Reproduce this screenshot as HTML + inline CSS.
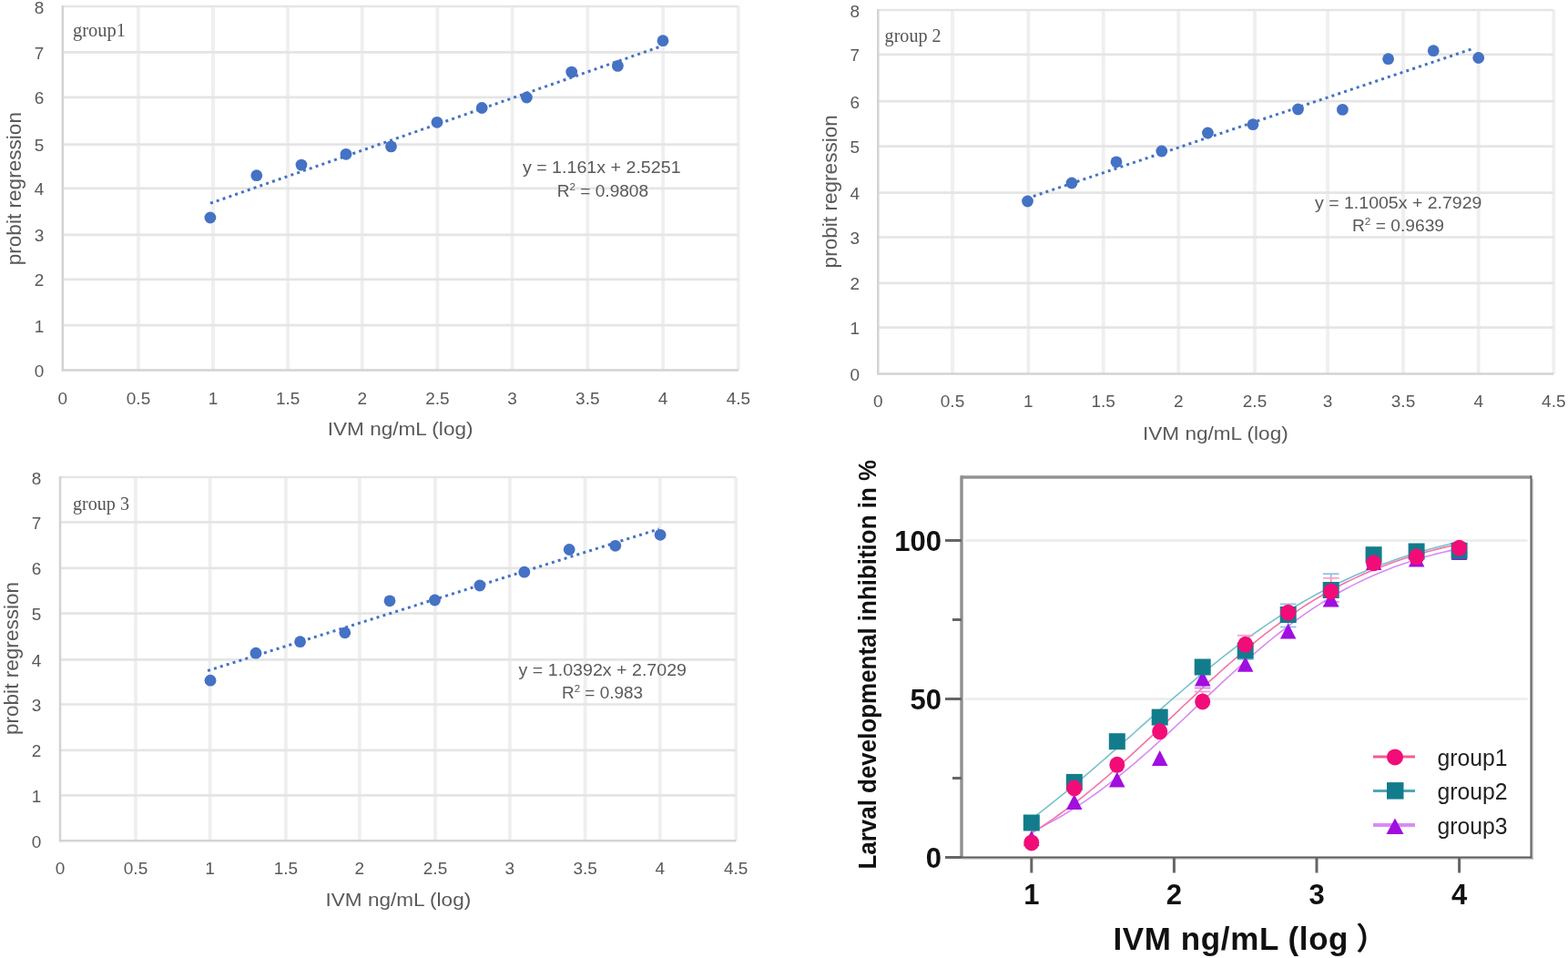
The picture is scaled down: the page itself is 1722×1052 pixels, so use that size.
<!DOCTYPE html>
<html><head><meta charset="utf-8"><title>IVM probit regression</title>
<style>html,body{margin:0;padding:0;background:#fff;}svg{display:block;}</style>
</head><body>
<svg width="1722" height="1052" viewBox="0 0 1722 1052">
<rect width="1722" height="1052" fill="#ffffff"/>
<line x1="152.0" y1="7.0" x2="152.0" y2="406.6" stroke="#efefef" stroke-width="3.8"/>
<line x1="234.0" y1="7.0" x2="234.0" y2="406.6" stroke="#efefef" stroke-width="3.8"/>
<line x1="316.1" y1="7.0" x2="316.1" y2="406.6" stroke="#efefef" stroke-width="3.8"/>
<line x1="397.7" y1="7.0" x2="397.7" y2="406.6" stroke="#efefef" stroke-width="3.8"/>
<line x1="480.4" y1="7.0" x2="480.4" y2="406.6" stroke="#efefef" stroke-width="3.8"/>
<line x1="562.5" y1="7.0" x2="562.5" y2="406.6" stroke="#efefef" stroke-width="3.8"/>
<line x1="645.3" y1="7.0" x2="645.3" y2="406.6" stroke="#efefef" stroke-width="3.8"/>
<line x1="728.1" y1="7.0" x2="728.1" y2="406.6" stroke="#efefef" stroke-width="3.8"/>
<line x1="810.9" y1="7.0" x2="810.9" y2="406.6" stroke="#efefef" stroke-width="3.8"/>
<line x1="68.8" y1="357.1" x2="810.9" y2="357.1" stroke="#e5e5e5" stroke-width="2.7"/>
<line x1="68.8" y1="306.8" x2="810.9" y2="306.8" stroke="#e5e5e5" stroke-width="2.7"/>
<line x1="68.8" y1="257.9" x2="810.9" y2="257.9" stroke="#e5e5e5" stroke-width="2.7"/>
<line x1="68.8" y1="206.8" x2="810.9" y2="206.8" stroke="#e5e5e5" stroke-width="2.7"/>
<line x1="68.8" y1="158.7" x2="810.9" y2="158.7" stroke="#e5e5e5" stroke-width="2.7"/>
<line x1="68.8" y1="106.8" x2="810.9" y2="106.8" stroke="#e5e5e5" stroke-width="2.7"/>
<line x1="68.8" y1="57.3" x2="810.9" y2="57.3" stroke="#e5e5e5" stroke-width="2.7"/>
<line x1="68.8" y1="7.0" x2="810.9" y2="7.0" stroke="#e5e5e5" stroke-width="2.7"/>
<line x1="68.8" y1="6.0" x2="68.8" y2="407.6" stroke="#d3d3d3" stroke-width="2.5"/>
<line x1="67.8" y1="406.6" x2="810.9" y2="406.6" stroke="#d3d3d3" stroke-width="2.5"/>
<text x="43.0" y="414.1" font-family="'Liberation Sans', Arial, sans-serif" font-size="19" fill="#595959" text-anchor="middle">0</text>
<text x="43.0" y="364.6" font-family="'Liberation Sans', Arial, sans-serif" font-size="19" fill="#595959" text-anchor="middle">1</text>
<text x="43.0" y="314.3" font-family="'Liberation Sans', Arial, sans-serif" font-size="19" fill="#595959" text-anchor="middle">2</text>
<text x="43.0" y="265.4" font-family="'Liberation Sans', Arial, sans-serif" font-size="19" fill="#595959" text-anchor="middle">3</text>
<text x="43.0" y="214.3" font-family="'Liberation Sans', Arial, sans-serif" font-size="19" fill="#595959" text-anchor="middle">4</text>
<text x="43.0" y="166.2" font-family="'Liberation Sans', Arial, sans-serif" font-size="19" fill="#595959" text-anchor="middle">5</text>
<text x="43.0" y="114.3" font-family="'Liberation Sans', Arial, sans-serif" font-size="19" fill="#595959" text-anchor="middle">6</text>
<text x="43.0" y="64.8" font-family="'Liberation Sans', Arial, sans-serif" font-size="19" fill="#595959" text-anchor="middle">7</text>
<text x="43.0" y="14.5" font-family="'Liberation Sans', Arial, sans-serif" font-size="19" fill="#595959" text-anchor="middle">8</text>
<text x="68.8" y="443.5" font-family="'Liberation Sans', Arial, sans-serif" font-size="19" fill="#595959" text-anchor="middle">0</text>
<text x="152.0" y="443.5" font-family="'Liberation Sans', Arial, sans-serif" font-size="19" fill="#595959" text-anchor="middle">0.5</text>
<text x="234.0" y="443.5" font-family="'Liberation Sans', Arial, sans-serif" font-size="19" fill="#595959" text-anchor="middle">1</text>
<text x="316.1" y="443.5" font-family="'Liberation Sans', Arial, sans-serif" font-size="19" fill="#595959" text-anchor="middle">1.5</text>
<text x="397.7" y="443.5" font-family="'Liberation Sans', Arial, sans-serif" font-size="19" fill="#595959" text-anchor="middle">2</text>
<text x="480.4" y="443.5" font-family="'Liberation Sans', Arial, sans-serif" font-size="19" fill="#595959" text-anchor="middle">2.5</text>
<text x="562.5" y="443.5" font-family="'Liberation Sans', Arial, sans-serif" font-size="19" fill="#595959" text-anchor="middle">3</text>
<text x="645.3" y="443.5" font-family="'Liberation Sans', Arial, sans-serif" font-size="19" fill="#595959" text-anchor="middle">3.5</text>
<text x="728.1" y="443.5" font-family="'Liberation Sans', Arial, sans-serif" font-size="19" fill="#595959" text-anchor="middle">4</text>
<text x="810.9" y="443.5" font-family="'Liberation Sans', Arial, sans-serif" font-size="19" fill="#595959" text-anchor="middle">4.5</text>
<text x="359.8" y="478.4" font-family="'Liberation Sans', Arial, sans-serif" font-size="20.5" fill="#595959" textLength="159.7" lengthAdjust="spacingAndGlyphs">IVM ng/mL (log)</text>
<text transform="translate(22.6,291.3) rotate(-90)" x="0" y="0" font-family="'Liberation Sans', Arial, sans-serif" font-size="22" fill="#595959" textLength="168.3" lengthAdjust="spacingAndGlyphs">probit regression</text>
<text x="80.0" y="39.7" font-family="'Liberation Serif', 'Times New Roman', serif" font-size="21" fill="#555555" textLength="58.0" lengthAdjust="spacingAndGlyphs">group1</text>
<text x="573.9" y="189.6" font-family="'Liberation Sans', Arial, sans-serif" font-size="18" fill="#595959" textLength="173.7" lengthAdjust="spacingAndGlyphs">y = 1.161x + 2.5251</text>
<text x="611.7" y="215.5" font-family="'Liberation Sans', Arial, sans-serif" font-size="18" fill="#595959" textLength="100.4" lengthAdjust="spacingAndGlyphs">R<tspan font-size="11" dy="-7">2</tspan><tspan dy="7"> = 0.9808</tspan></text>
<line x1="231.0" y1="223.2" x2="727.5" y2="50.3" stroke="#4472c4" stroke-width="3" stroke-dasharray="3 4.2"/>
<circle cx="230.9" cy="239.0" r="6.4" fill="#4472c4"/>
<circle cx="281.8" cy="192.7" r="6.4" fill="#4472c4"/>
<circle cx="331.0" cy="181.1" r="6.4" fill="#4472c4"/>
<circle cx="380.0" cy="169.3" r="6.4" fill="#4472c4"/>
<circle cx="429.5" cy="160.9" r="6.4" fill="#4472c4"/>
<circle cx="480.0" cy="134.3" r="6.4" fill="#4472c4"/>
<circle cx="529.2" cy="118.5" r="6.4" fill="#4472c4"/>
<circle cx="578.4" cy="107.0" r="6.4" fill="#4472c4"/>
<circle cx="627.7" cy="79.1" r="6.4" fill="#4472c4"/>
<circle cx="678.4" cy="72.4" r="6.4" fill="#4472c4"/>
<circle cx="728.0" cy="44.7" r="6.4" fill="#4472c4"/>
<line x1="1046.0" y1="11.0" x2="1046.0" y2="410.6" stroke="#efefef" stroke-width="3.8"/>
<line x1="1129.4" y1="11.0" x2="1129.4" y2="410.6" stroke="#efefef" stroke-width="3.8"/>
<line x1="1211.7" y1="11.0" x2="1211.7" y2="410.6" stroke="#efefef" stroke-width="3.8"/>
<line x1="1294.3" y1="11.0" x2="1294.3" y2="410.6" stroke="#efefef" stroke-width="3.8"/>
<line x1="1378.0" y1="11.0" x2="1378.0" y2="410.6" stroke="#efefef" stroke-width="3.8"/>
<line x1="1458.0" y1="11.0" x2="1458.0" y2="410.6" stroke="#efefef" stroke-width="3.8"/>
<line x1="1541.0" y1="11.0" x2="1541.0" y2="410.6" stroke="#efefef" stroke-width="3.8"/>
<line x1="1623.7" y1="11.0" x2="1623.7" y2="410.6" stroke="#efefef" stroke-width="3.8"/>
<line x1="1706.3" y1="11.0" x2="1706.3" y2="410.6" stroke="#efefef" stroke-width="3.8"/>
<line x1="964.3" y1="359.7" x2="1706.3" y2="359.7" stroke="#e5e5e5" stroke-width="2.7"/>
<line x1="964.3" y1="310.8" x2="1706.3" y2="310.8" stroke="#e5e5e5" stroke-width="2.7"/>
<line x1="964.3" y1="260.5" x2="1706.3" y2="260.5" stroke="#e5e5e5" stroke-width="2.7"/>
<line x1="964.3" y1="211.6" x2="1706.3" y2="211.6" stroke="#e5e5e5" stroke-width="2.7"/>
<line x1="964.3" y1="160.7" x2="1706.3" y2="160.7" stroke="#e5e5e5" stroke-width="2.7"/>
<line x1="964.3" y1="111.2" x2="1706.3" y2="111.2" stroke="#e5e5e5" stroke-width="2.7"/>
<line x1="964.3" y1="59.9" x2="1706.3" y2="59.9" stroke="#e5e5e5" stroke-width="2.7"/>
<line x1="964.3" y1="11.0" x2="1706.3" y2="11.0" stroke="#e5e5e5" stroke-width="2.7"/>
<line x1="964.3" y1="10.0" x2="964.3" y2="411.6" stroke="#d3d3d3" stroke-width="2.5"/>
<line x1="963.3" y1="410.6" x2="1706.3" y2="410.6" stroke="#d3d3d3" stroke-width="2.5"/>
<text x="938.7" y="418.1" font-family="'Liberation Sans', Arial, sans-serif" font-size="19" fill="#595959" text-anchor="middle">0</text>
<text x="938.7" y="367.2" font-family="'Liberation Sans', Arial, sans-serif" font-size="19" fill="#595959" text-anchor="middle">1</text>
<text x="938.7" y="318.3" font-family="'Liberation Sans', Arial, sans-serif" font-size="19" fill="#595959" text-anchor="middle">2</text>
<text x="938.7" y="268.0" font-family="'Liberation Sans', Arial, sans-serif" font-size="19" fill="#595959" text-anchor="middle">3</text>
<text x="938.7" y="219.1" font-family="'Liberation Sans', Arial, sans-serif" font-size="19" fill="#595959" text-anchor="middle">4</text>
<text x="938.7" y="168.2" font-family="'Liberation Sans', Arial, sans-serif" font-size="19" fill="#595959" text-anchor="middle">5</text>
<text x="938.7" y="118.7" font-family="'Liberation Sans', Arial, sans-serif" font-size="19" fill="#595959" text-anchor="middle">6</text>
<text x="938.7" y="67.4" font-family="'Liberation Sans', Arial, sans-serif" font-size="19" fill="#595959" text-anchor="middle">7</text>
<text x="938.7" y="18.5" font-family="'Liberation Sans', Arial, sans-serif" font-size="19" fill="#595959" text-anchor="middle">8</text>
<text x="964.3" y="447.0" font-family="'Liberation Sans', Arial, sans-serif" font-size="19" fill="#595959" text-anchor="middle">0</text>
<text x="1046.0" y="447.0" font-family="'Liberation Sans', Arial, sans-serif" font-size="19" fill="#595959" text-anchor="middle">0.5</text>
<text x="1129.4" y="447.0" font-family="'Liberation Sans', Arial, sans-serif" font-size="19" fill="#595959" text-anchor="middle">1</text>
<text x="1211.7" y="447.0" font-family="'Liberation Sans', Arial, sans-serif" font-size="19" fill="#595959" text-anchor="middle">1.5</text>
<text x="1294.3" y="447.0" font-family="'Liberation Sans', Arial, sans-serif" font-size="19" fill="#595959" text-anchor="middle">2</text>
<text x="1378.0" y="447.0" font-family="'Liberation Sans', Arial, sans-serif" font-size="19" fill="#595959" text-anchor="middle">2.5</text>
<text x="1458.0" y="447.0" font-family="'Liberation Sans', Arial, sans-serif" font-size="19" fill="#595959" text-anchor="middle">3</text>
<text x="1541.0" y="447.0" font-family="'Liberation Sans', Arial, sans-serif" font-size="19" fill="#595959" text-anchor="middle">3.5</text>
<text x="1623.7" y="447.0" font-family="'Liberation Sans', Arial, sans-serif" font-size="19" fill="#595959" text-anchor="middle">4</text>
<text x="1706.3" y="447.0" font-family="'Liberation Sans', Arial, sans-serif" font-size="19" fill="#595959" text-anchor="middle">4.5</text>
<text x="1255.0" y="482.5" font-family="'Liberation Sans', Arial, sans-serif" font-size="20.5" fill="#595959" textLength="159.7" lengthAdjust="spacingAndGlyphs">IVM ng/mL (log)</text>
<text transform="translate(919.0,294.4) rotate(-90)" x="0" y="0" font-family="'Liberation Sans', Arial, sans-serif" font-size="22" fill="#595959" textLength="168.3" lengthAdjust="spacingAndGlyphs">probit regression</text>
<text x="971.6" y="45.8" font-family="'Liberation Serif', 'Times New Roman', serif" font-size="21" fill="#555555" textLength="62.0" lengthAdjust="spacingAndGlyphs">group 2</text>
<text x="1444.0" y="228.5" font-family="'Liberation Sans', Arial, sans-serif" font-size="18" fill="#595959" textLength="183.4" lengthAdjust="spacingAndGlyphs">y = 1.1005x + 2.7929</text>
<text x="1485.0" y="253.5" font-family="'Liberation Sans', Arial, sans-serif" font-size="18" fill="#595959" textLength="101.0" lengthAdjust="spacingAndGlyphs">R<tspan font-size="11" dy="-7">2</tspan><tspan dy="7"> = 0.9639</tspan></text>
<line x1="1128.0" y1="217.8" x2="1619.5" y2="52.8" stroke="#4472c4" stroke-width="3" stroke-dasharray="3 4.2"/>
<circle cx="1128.5" cy="221.0" r="6.4" fill="#4472c4"/>
<circle cx="1177.0" cy="201.0" r="6.4" fill="#4472c4"/>
<circle cx="1226.0" cy="177.8" r="6.4" fill="#4472c4"/>
<circle cx="1275.8" cy="166.0" r="6.4" fill="#4472c4"/>
<circle cx="1326.4" cy="146.0" r="6.4" fill="#4472c4"/>
<circle cx="1376.0" cy="136.7" r="6.4" fill="#4472c4"/>
<circle cx="1425.5" cy="120.0" r="6.4" fill="#4472c4"/>
<circle cx="1474.4" cy="120.4" r="6.4" fill="#4472c4"/>
<circle cx="1524.6" cy="64.7" r="6.4" fill="#4472c4"/>
<circle cx="1574.2" cy="55.7" r="6.4" fill="#4472c4"/>
<circle cx="1623.7" cy="63.5" r="6.4" fill="#4472c4"/>
<line x1="149.0" y1="524.0" x2="149.0" y2="923.2" stroke="#efefef" stroke-width="3.8"/>
<line x1="230.6" y1="524.0" x2="230.6" y2="923.2" stroke="#efefef" stroke-width="3.8"/>
<line x1="313.9" y1="524.0" x2="313.9" y2="923.2" stroke="#efefef" stroke-width="3.8"/>
<line x1="394.9" y1="524.0" x2="394.9" y2="923.2" stroke="#efefef" stroke-width="3.8"/>
<line x1="478.0" y1="524.0" x2="478.0" y2="923.2" stroke="#efefef" stroke-width="3.8"/>
<line x1="559.9" y1="524.0" x2="559.9" y2="923.2" stroke="#efefef" stroke-width="3.8"/>
<line x1="642.6" y1="524.0" x2="642.6" y2="923.2" stroke="#efefef" stroke-width="3.8"/>
<line x1="724.8" y1="524.0" x2="724.8" y2="923.2" stroke="#efefef" stroke-width="3.8"/>
<line x1="808.2" y1="524.0" x2="808.2" y2="923.2" stroke="#efefef" stroke-width="3.8"/>
<line x1="66.0" y1="873.3" x2="808.2" y2="873.3" stroke="#e5e5e5" stroke-width="2.7"/>
<line x1="66.0" y1="823.8" x2="808.2" y2="823.8" stroke="#e5e5e5" stroke-width="2.7"/>
<line x1="66.0" y1="773.5" x2="808.2" y2="773.5" stroke="#e5e5e5" stroke-width="2.7"/>
<line x1="66.0" y1="724.3" x2="808.2" y2="724.3" stroke="#e5e5e5" stroke-width="2.7"/>
<line x1="66.0" y1="673.7" x2="808.2" y2="673.7" stroke="#e5e5e5" stroke-width="2.7"/>
<line x1="66.0" y1="623.8" x2="808.2" y2="623.8" stroke="#e5e5e5" stroke-width="2.7"/>
<line x1="66.0" y1="573.3" x2="808.2" y2="573.3" stroke="#e5e5e5" stroke-width="2.7"/>
<line x1="66.0" y1="524.0" x2="808.2" y2="524.0" stroke="#e5e5e5" stroke-width="2.7"/>
<line x1="66.0" y1="523.0" x2="66.0" y2="924.2" stroke="#d3d3d3" stroke-width="2.5"/>
<line x1="65.0" y1="923.2" x2="808.2" y2="923.2" stroke="#d3d3d3" stroke-width="2.5"/>
<text x="40.1" y="930.7" font-family="'Liberation Sans', Arial, sans-serif" font-size="19" fill="#595959" text-anchor="middle">0</text>
<text x="40.1" y="880.8" font-family="'Liberation Sans', Arial, sans-serif" font-size="19" fill="#595959" text-anchor="middle">1</text>
<text x="40.1" y="831.3" font-family="'Liberation Sans', Arial, sans-serif" font-size="19" fill="#595959" text-anchor="middle">2</text>
<text x="40.1" y="781.0" font-family="'Liberation Sans', Arial, sans-serif" font-size="19" fill="#595959" text-anchor="middle">3</text>
<text x="40.1" y="731.8" font-family="'Liberation Sans', Arial, sans-serif" font-size="19" fill="#595959" text-anchor="middle">4</text>
<text x="40.1" y="681.2" font-family="'Liberation Sans', Arial, sans-serif" font-size="19" fill="#595959" text-anchor="middle">5</text>
<text x="40.1" y="631.3" font-family="'Liberation Sans', Arial, sans-serif" font-size="19" fill="#595959" text-anchor="middle">6</text>
<text x="40.1" y="580.8" font-family="'Liberation Sans', Arial, sans-serif" font-size="19" fill="#595959" text-anchor="middle">7</text>
<text x="40.1" y="531.5" font-family="'Liberation Sans', Arial, sans-serif" font-size="19" fill="#595959" text-anchor="middle">8</text>
<text x="66.0" y="960.0" font-family="'Liberation Sans', Arial, sans-serif" font-size="19" fill="#595959" text-anchor="middle">0</text>
<text x="149.0" y="960.0" font-family="'Liberation Sans', Arial, sans-serif" font-size="19" fill="#595959" text-anchor="middle">0.5</text>
<text x="230.6" y="960.0" font-family="'Liberation Sans', Arial, sans-serif" font-size="19" fill="#595959" text-anchor="middle">1</text>
<text x="313.9" y="960.0" font-family="'Liberation Sans', Arial, sans-serif" font-size="19" fill="#595959" text-anchor="middle">1.5</text>
<text x="394.9" y="960.0" font-family="'Liberation Sans', Arial, sans-serif" font-size="19" fill="#595959" text-anchor="middle">2</text>
<text x="478.0" y="960.0" font-family="'Liberation Sans', Arial, sans-serif" font-size="19" fill="#595959" text-anchor="middle">2.5</text>
<text x="559.9" y="960.0" font-family="'Liberation Sans', Arial, sans-serif" font-size="19" fill="#595959" text-anchor="middle">3</text>
<text x="642.6" y="960.0" font-family="'Liberation Sans', Arial, sans-serif" font-size="19" fill="#595959" text-anchor="middle">3.5</text>
<text x="724.8" y="960.0" font-family="'Liberation Sans', Arial, sans-serif" font-size="19" fill="#595959" text-anchor="middle">4</text>
<text x="808.2" y="960.0" font-family="'Liberation Sans', Arial, sans-serif" font-size="19" fill="#595959" text-anchor="middle">4.5</text>
<text x="357.5" y="994.5" font-family="'Liberation Sans', Arial, sans-serif" font-size="20.5" fill="#595959" textLength="159.7" lengthAdjust="spacingAndGlyphs">IVM ng/mL (log)</text>
<text transform="translate(19.9,807.1) rotate(-90)" x="0" y="0" font-family="'Liberation Sans', Arial, sans-serif" font-size="22" fill="#595959" textLength="168.3" lengthAdjust="spacingAndGlyphs">probit regression</text>
<text x="80.0" y="560.2" font-family="'Liberation Serif', 'Times New Roman', serif" font-size="21" fill="#555555" textLength="62.0" lengthAdjust="spacingAndGlyphs">group 3</text>
<text x="569.6" y="741.5" font-family="'Liberation Sans', Arial, sans-serif" font-size="18" fill="#595959" textLength="184.4" lengthAdjust="spacingAndGlyphs">y = 1.0392x + 2.7029</text>
<text x="617.0" y="767.0" font-family="'Liberation Sans', Arial, sans-serif" font-size="18" fill="#595959" textLength="89.0" lengthAdjust="spacingAndGlyphs">R<tspan font-size="11" dy="-7">2</tspan><tspan dy="7"> = 0.983</tspan></text>
<line x1="228.1" y1="736.5" x2="723.8" y2="580.9" stroke="#4472c4" stroke-width="3" stroke-dasharray="3 4.2"/>
<circle cx="231.0" cy="747.2" r="6.4" fill="#4472c4"/>
<circle cx="281.0" cy="717.2" r="6.4" fill="#4472c4"/>
<circle cx="329.6" cy="704.7" r="6.4" fill="#4472c4"/>
<circle cx="378.8" cy="694.8" r="6.4" fill="#4472c4"/>
<circle cx="428.0" cy="659.8" r="6.4" fill="#4472c4"/>
<circle cx="477.5" cy="659.0" r="6.4" fill="#4472c4"/>
<circle cx="526.9" cy="643.0" r="6.4" fill="#4472c4"/>
<circle cx="575.8" cy="628.2" r="6.4" fill="#4472c4"/>
<circle cx="625.2" cy="603.5" r="6.4" fill="#4472c4"/>
<circle cx="675.8" cy="599.3" r="6.4" fill="#4472c4"/>
<circle cx="725.1" cy="587.3" r="6.4" fill="#4472c4"/>
<line x1="1060" y1="767.5" x2="1677.5" y2="767.5" stroke="#eeeeee" stroke-width="3"/>
<line x1="1060" y1="593.5" x2="1677.5" y2="593.5" stroke="#eeeeee" stroke-width="3"/>
<polyline points="1132.8,913.5 1138.7,910.7 1144.7,907.7 1150.6,904.5 1156.6,901.3 1162.5,898.0 1168.5,894.5 1174.4,890.9 1180.4,887.2 1186.3,883.3 1192.3,879.3 1198.2,875.2 1204.2,871.0 1210.1,866.7 1216.1,862.2 1222.0,857.7 1227.9,853.0 1233.9,848.2 1239.8,843.3 1245.8,838.3 1251.7,833.2 1257.7,828.0 1263.6,822.8 1269.6,817.4 1275.5,812.0 1281.5,806.6 1287.4,801.1 1293.4,795.5 1299.3,790.0 1305.3,784.4 1311.2,778.7 1317.2,773.1 1323.1,767.5 1329.0,761.9 1335.0,756.3 1340.9,750.7 1346.9,745.2 1352.8,739.8 1358.8,734.4 1364.7,729.0 1370.7,723.7 1376.6,718.5 1382.6,713.4 1388.5,708.4 1394.5,703.5 1400.4,698.7 1406.4,694.0 1412.3,689.4 1418.2,684.9 1424.2,680.5 1430.1,676.3 1436.1,672.2 1442.0,668.2 1448.0,664.3 1453.9,660.5 1459.9,656.9 1465.8,653.4 1471.8,650.0 1477.7,646.8 1483.7,643.6 1489.6,640.6 1495.6,637.7 1501.5,634.9 1507.5,632.3 1513.4,629.7 1519.3,627.2 1525.3,624.9 1531.2,622.6 1537.2,620.5 1543.1,618.4 1549.1,616.5 1555.0,614.6 1561.0,612.8 1566.9,611.1 1572.9,609.5 1578.8,607.9 1584.8,606.5 1590.7,605.1 1596.7,603.7 1602.6,602.5" fill="none" stroke="#d88af5" stroke-width="1.6"/>
<polyline points="1132.8,899.3 1138.7,894.8 1144.7,890.3 1150.6,885.6 1156.6,880.9 1162.5,876.1 1168.5,871.3 1174.4,866.4 1180.4,861.5 1186.3,856.5 1192.3,851.4 1198.2,846.3 1204.2,841.2 1210.1,836.0 1216.1,830.8 1222.0,825.6 1227.9,820.3 1233.9,815.0 1239.8,809.8 1245.8,804.5 1251.7,799.2 1257.7,793.9 1263.6,788.6 1269.6,783.4 1275.5,778.1 1281.5,772.9 1287.4,767.7 1293.4,762.6 1299.3,757.5 1305.3,752.4 1311.2,747.4 1317.2,742.4 1323.1,737.5 1329.0,732.6 1335.0,727.8 1340.9,723.1 1346.9,718.4 1352.8,713.8 1358.8,709.3 1364.7,704.8 1370.7,700.5 1376.6,696.2 1382.6,692.0 1388.5,687.9 1394.5,683.9 1400.4,679.9 1406.4,676.0 1412.3,672.3 1418.2,668.6 1424.2,665.0 1430.1,661.5 1436.1,658.1 1442.0,654.8 1448.0,651.5 1453.9,648.4 1459.9,645.3 1465.8,642.4 1471.8,639.5 1477.7,636.7 1483.7,634.0 1489.6,631.3 1495.6,628.8 1501.5,626.3 1507.5,623.9 1513.4,621.6 1519.3,619.3 1525.3,617.2 1531.2,615.1 1537.2,613.0 1543.1,611.1 1549.1,609.2 1555.0,607.4 1561.0,605.6 1566.9,603.9 1572.9,602.3 1578.8,600.7 1584.8,599.2 1590.7,597.7 1596.7,596.3 1602.6,594.9" fill="none" stroke="#78c0cc" stroke-width="1.6"/>
<polyline points="1132.8,915.0 1138.7,911.2 1144.7,907.3 1150.6,903.4 1156.6,899.3 1162.5,895.0 1168.5,890.7 1174.4,886.3 1180.4,881.8 1186.3,877.1 1192.3,872.4 1198.2,867.5 1204.2,862.6 1210.1,857.6 1216.1,852.5 1222.0,847.3 1227.9,842.0 1233.9,836.7 1239.8,831.3 1245.8,825.9 1251.7,820.4 1257.7,814.8 1263.6,809.3 1269.6,803.7 1275.5,798.0 1281.5,792.4 1287.4,786.8 1293.4,781.1 1299.3,775.5 1305.3,769.9 1311.2,764.3 1317.2,758.7 1323.1,753.2 1329.0,747.7 1335.0,742.3 1340.9,737.0 1346.9,731.7 1352.8,726.5 1358.8,721.3 1364.7,716.3 1370.7,711.3 1376.6,706.4 1382.6,701.6 1388.5,696.9 1394.5,692.4 1400.4,687.9 1406.4,683.5 1412.3,679.2 1418.2,675.1 1424.2,671.1 1430.1,667.1 1436.1,663.3 1442.0,659.6 1448.0,656.0 1453.9,652.6 1459.9,649.2 1465.8,646.0 1471.8,642.8 1477.7,639.8 1483.7,636.9 1489.6,634.1 1495.6,631.3 1501.5,628.7 1507.5,626.2 1513.4,623.8 1519.3,621.5 1525.3,619.2 1531.2,617.1 1537.2,615.1 1543.1,613.1 1549.1,611.2 1555.0,609.4 1561.0,607.7 1566.9,606.0 1572.9,604.4 1578.8,602.9 1584.8,601.4 1590.7,600.0 1596.7,598.7 1602.6,597.5" fill="none" stroke="#f572a8" stroke-width="1.6"/>
<line x1="1452.9" y1="630.2" x2="1470.5" y2="630.2" stroke="#8fc3e6" stroke-width="1.8"/>
<line x1="1461.7" y1="630.2" x2="1461.7" y2="648" stroke="#8fc3e6" stroke-width="1.8"/>
<line x1="1452.9" y1="634.8" x2="1470.5" y2="634.8" stroke="#f6a3c4" stroke-width="1.8"/>
<line x1="1461.7" y1="634.8" x2="1461.7" y2="649" stroke="#f6a3c4" stroke-width="1.8"/>
<line x1="1452.9" y1="665.3" x2="1470.5" y2="665.3" stroke="#d58cf2" stroke-width="1.8"/>
<line x1="1461.7" y1="665.3" x2="1461.7" y2="660" stroke="#d58cf2" stroke-width="1.8"/>
<line x1="1452.9" y1="661" x2="1470.5" y2="661" stroke="#d58cf2" stroke-width="1.8"/>
<line x1="1461.7" y1="661" x2="1461.7" y2="660" stroke="#d58cf2" stroke-width="1.8"/>
<line x1="1358.9" y1="697.8" x2="1376.5" y2="697.8" stroke="#f6a3c4" stroke-width="1.8"/>
<line x1="1367.7" y1="697.8" x2="1367.7" y2="708" stroke="#f6a3c4" stroke-width="1.8"/>
<line x1="1405.9" y1="663.4" x2="1423.5" y2="663.4" stroke="#8fc3e6" stroke-width="1.8"/>
<line x1="1414.7" y1="663.4" x2="1414.7" y2="672.7" stroke="#8fc3e6" stroke-width="1.8"/>
<line x1="1405.9" y1="688.5" x2="1423.5" y2="688.5" stroke="#8fc3e6" stroke-width="1.8"/>
<line x1="1414.7" y1="688.5" x2="1414.7" y2="675" stroke="#8fc3e6" stroke-width="1.8"/>
<line x1="1358.9" y1="724" x2="1376.5" y2="724" stroke="#8fc3e6" stroke-width="1.8"/>
<line x1="1367.7" y1="724" x2="1367.7" y2="714.5" stroke="#8fc3e6" stroke-width="1.8"/>
<line x1="1311.9" y1="759.5" x2="1329.5" y2="759.5" stroke="#f6a3c4" stroke-width="1.8"/>
<line x1="1320.7" y1="759.5" x2="1320.7" y2="770.5" stroke="#f6a3c4" stroke-width="1.8"/>
<line x1="1311.9" y1="755.5" x2="1329.5" y2="755.5" stroke="#d58cf2" stroke-width="1.8"/>
<line x1="1320.7" y1="755.5" x2="1320.7" y2="746" stroke="#d58cf2" stroke-width="1.8"/>
<polygon points="1132.8,912.1 1141.5,929.1 1124.0,929.1" fill="#a00ee0"/>
<polygon points="1179.8,872.1 1188.5,889.1 1171.0,889.1" fill="#a00ee0"/>
<polygon points="1226.8,847.6 1235.5,864.6 1218.0,864.6" fill="#a00ee0"/>
<polygon points="1273.7,823.9 1282.5,840.9 1265.0,840.9" fill="#a00ee0"/>
<polygon points="1320.7,736.5 1329.5,753.5 1312.0,753.5" fill="#a00ee0"/>
<polygon points="1367.7,720.8 1376.4,737.8 1358.9,737.8" fill="#a00ee0"/>
<polygon points="1414.7,684.5 1423.4,701.5 1405.9,701.5" fill="#a00ee0"/>
<polygon points="1461.7,649.4 1470.4,666.4 1452.9,666.4" fill="#a00ee0"/>
<polygon points="1508.6,609.0 1517.4,626.0 1499.9,626.0" fill="#a00ee0"/>
<polygon points="1555.6,605.5 1564.4,622.5 1546.9,622.5" fill="#a00ee0"/>
<polygon points="1602.6,598.0 1611.3,615.0 1593.8,615.0" fill="#a00ee0"/>
<rect x="1123.8" y="894.5" width="18" height="18" fill="#137c8c"/>
<rect x="1170.8" y="849.9" width="18" height="18" fill="#137c8c"/>
<rect x="1217.8" y="805.2" width="18" height="18" fill="#137c8c"/>
<rect x="1264.7" y="778.6" width="18" height="18" fill="#137c8c"/>
<rect x="1311.7" y="723.5" width="18" height="18" fill="#137c8c"/>
<rect x="1358.7" y="705.5" width="18" height="18" fill="#137c8c"/>
<rect x="1405.7" y="666.0" width="18" height="18" fill="#137c8c"/>
<rect x="1452.7" y="639.0" width="18" height="18" fill="#137c8c"/>
<rect x="1499.6" y="600.2" width="18" height="18" fill="#137c8c"/>
<rect x="1546.6" y="596.5" width="18" height="18" fill="#137c8c"/>
<rect x="1593.6" y="595.8" width="18" height="18" fill="#137c8c"/>
<ellipse cx="1132.8" cy="925.4" rx="8.5" ry="9" fill="#f20c78"/>
<ellipse cx="1179.8" cy="865.5" rx="8.5" ry="9" fill="#f20c78"/>
<ellipse cx="1226.8" cy="839.8" rx="8.5" ry="9" fill="#f20c78"/>
<ellipse cx="1273.7" cy="803.3" rx="8.5" ry="9" fill="#f20c78"/>
<ellipse cx="1320.7" cy="770.5" rx="8.5" ry="9" fill="#f20c78"/>
<ellipse cx="1367.7" cy="707.8" rx="8.5" ry="9" fill="#f20c78"/>
<ellipse cx="1414.7" cy="672.7" rx="8.5" ry="9" fill="#f20c78"/>
<ellipse cx="1461.7" cy="649.5" rx="8.5" ry="9" fill="#f20c78"/>
<ellipse cx="1508.6" cy="618.3" rx="8.5" ry="9" fill="#f20c78"/>
<ellipse cx="1555.6" cy="611.5" rx="8.5" ry="9" fill="#f20c78"/>
<ellipse cx="1602.6" cy="601.7" rx="8.5" ry="9" fill="#f20c78"/>
<line x1="1056" y1="524" x2="1681.5" y2="524" stroke="#939393" stroke-width="3.4"/>
<line x1="1056" y1="522.3" x2="1056" y2="941.5" stroke="#909090" stroke-width="3.4"/>
<line x1="1056" y1="943.1" x2="1683.7" y2="943.1" stroke="#d2d2d2" stroke-width="1.6"/>
<line x1="1683.1" y1="525.7" x2="1683.1" y2="943.9" stroke="#c4c4c4" stroke-width="1.6"/>
<line x1="1054.3" y1="941.5" x2="1682.4" y2="941.5" stroke="#5a5a5a" stroke-width="2"/>
<line x1="1681.5" y1="522.3" x2="1681.5" y2="942.4" stroke="#626262" stroke-width="2"/>
<line x1="1038" y1="941.5" x2="1056" y2="941.5" stroke="#666666" stroke-width="3"/>
<line x1="1046" y1="854.5" x2="1056" y2="854.5" stroke="#666666" stroke-width="3"/>
<line x1="1038" y1="767.5" x2="1056" y2="767.5" stroke="#666666" stroke-width="3"/>
<line x1="1046" y1="680.5" x2="1056" y2="680.5" stroke="#666666" stroke-width="3"/>
<line x1="1038" y1="593.5" x2="1056" y2="593.5" stroke="#666666" stroke-width="3"/>
<line x1="1132.8" y1="941.5" x2="1132.8" y2="958.5" stroke="#666666" stroke-width="3"/>
<line x1="1289.4" y1="941.5" x2="1289.4" y2="958.5" stroke="#666666" stroke-width="3"/>
<line x1="1446.0" y1="941.5" x2="1446.0" y2="958.5" stroke="#666666" stroke-width="3"/>
<line x1="1602.6" y1="941.5" x2="1602.6" y2="958.5" stroke="#666666" stroke-width="3"/>
<text x="1034" y="953.0" font-family="'Liberation Sans', Arial, sans-serif" font-weight="bold" fill="#111111" font-size="31" text-anchor="end">0</text>
<text x="1034" y="779.0" font-family="'Liberation Sans', Arial, sans-serif" font-weight="bold" fill="#111111" font-size="31" text-anchor="end">50</text>
<text x="1034" y="605.0" font-family="'Liberation Sans', Arial, sans-serif" font-weight="bold" fill="#111111" font-size="31" text-anchor="end">100</text>
<text x="1132.8" y="993" font-family="'Liberation Sans', Arial, sans-serif" font-weight="bold" fill="#111111" font-size="31" text-anchor="middle">1</text>
<text x="1289.4" y="993" font-family="'Liberation Sans', Arial, sans-serif" font-weight="bold" fill="#111111" font-size="31" text-anchor="middle">2</text>
<text x="1446.0" y="993" font-family="'Liberation Sans', Arial, sans-serif" font-weight="bold" fill="#111111" font-size="31" text-anchor="middle">3</text>
<text x="1602.6" y="993" font-family="'Liberation Sans', Arial, sans-serif" font-weight="bold" fill="#111111" font-size="31" text-anchor="middle">4</text>
<text x="1222.5" y="1042.5" font-family="'Liberation Sans', Arial, sans-serif" font-weight="bold" fill="#111111" font-size="35" textLength="258" lengthAdjust="spacing">IVM ng/mL (log</text>
<text x="1489" y="1042.5" font-family="'Noto Sans CJK SC', sans-serif" font-weight="bold" fill="#111111" font-size="34">）</text>
<text transform="translate(962,954.5) rotate(-90)" font-family="'Liberation Sans', Arial, sans-serif" font-weight="bold" fill="#111111" font-size="27.5" textLength="449.5" lengthAdjust="spacingAndGlyphs">Larval developmental inhibition in %</text>
<line x1="1508" y1="830.9" x2="1554" y2="830.9" stroke="#f25a95" stroke-width="3"/>
<circle cx="1532" cy="831.4" r="9" fill="#f20c78"/>
<text x="1578.4" y="840.6999999999999" font-family="'Liberation Sans', Arial, sans-serif" fill="#222222" font-size="26" textLength="77" lengthAdjust="spacingAndGlyphs">group1</text>
<line x1="1508" y1="868.6" x2="1554" y2="868.6" stroke="#4ea6b6" stroke-width="3"/>
<rect x="1523" y="859.1" width="18.5" height="18.5" fill="#137c8c"/>
<text x="1578.4" y="878.4" font-family="'Liberation Sans', Arial, sans-serif" fill="#222222" font-size="26" textLength="77" lengthAdjust="spacingAndGlyphs">group2</text>
<line x1="1508" y1="906.1" x2="1554" y2="906.1" stroke="#d98cf3" stroke-width="4"/>
<polygon points="1532,898.4 1541.5,916.1 1522.5,916.1" fill="#a00ee0"/>
<text x="1578.4" y="915.9" font-family="'Liberation Sans', Arial, sans-serif" fill="#222222" font-size="26" textLength="77" lengthAdjust="spacingAndGlyphs">group3</text>
</svg>
</body></html>
